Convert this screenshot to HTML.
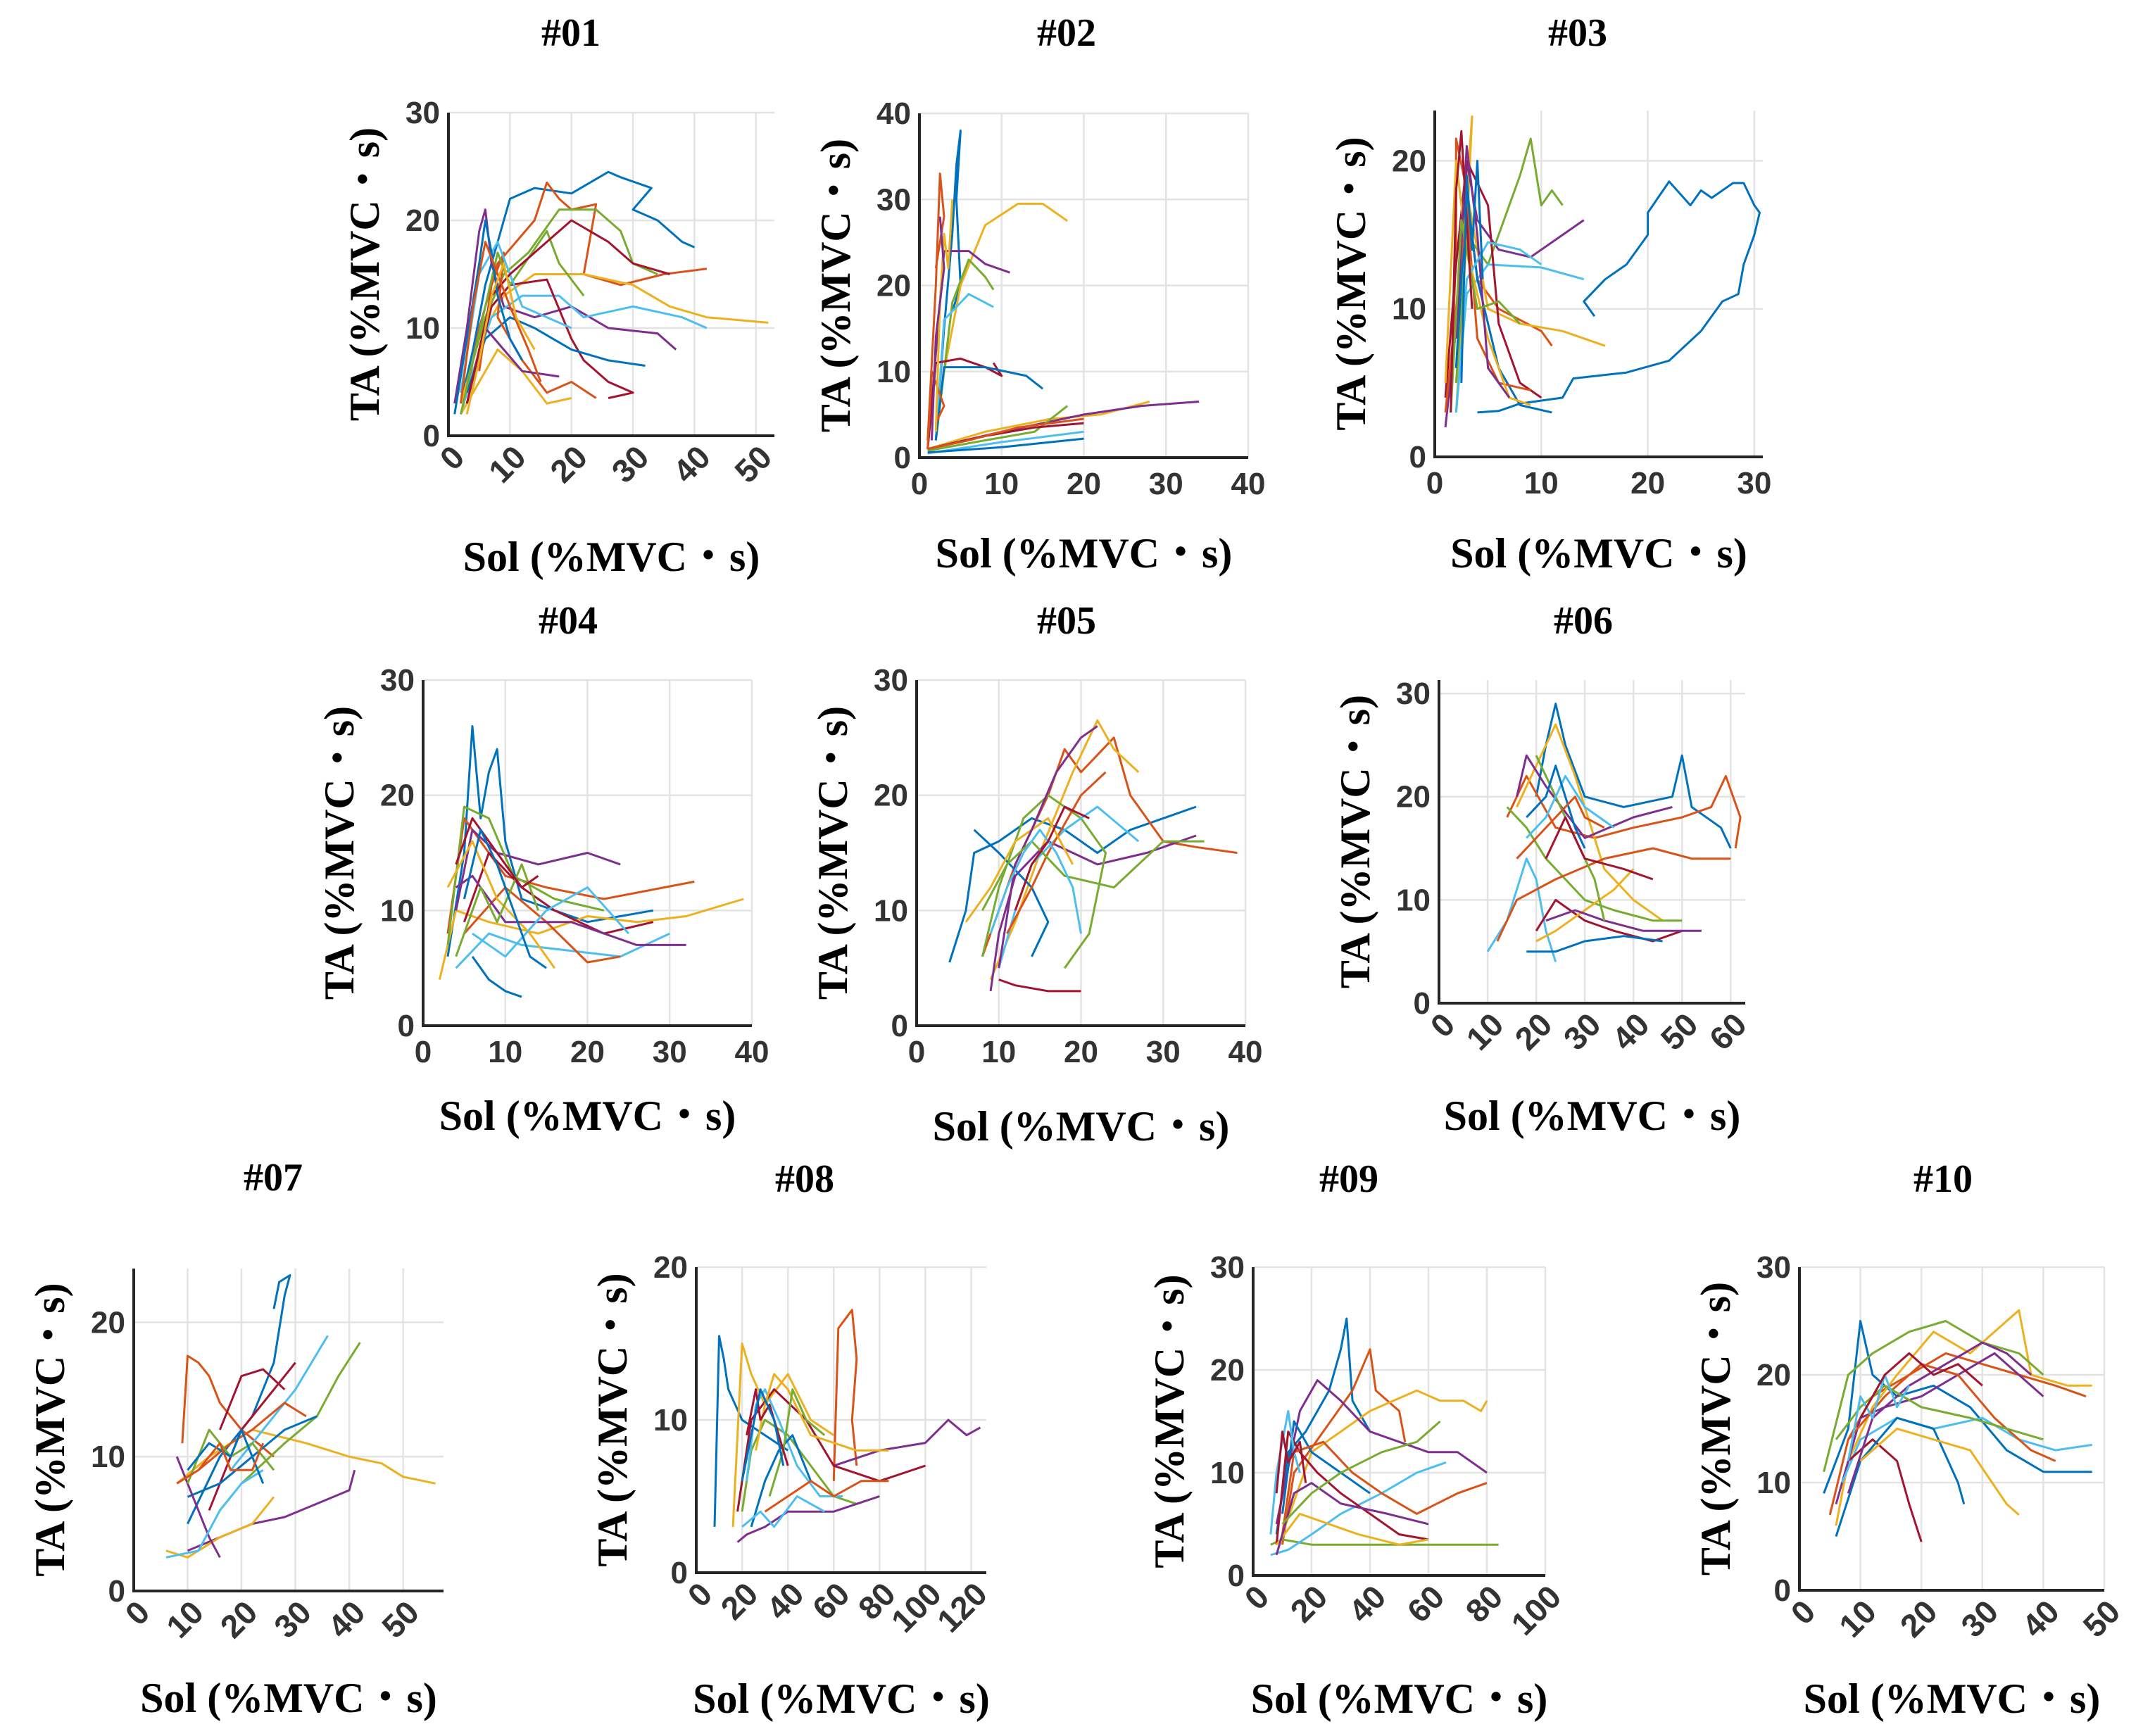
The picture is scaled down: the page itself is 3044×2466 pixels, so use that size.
<!DOCTYPE html>
<html><head><meta charset="utf-8"><style>
html,body{margin:0;padding:0;background:#fff;}
svg{display:block;}
</style></head><body>
<svg id="fig" width="3044" height="2466" viewBox="0 0 3044 2466" xmlns="http://www.w3.org/2000/svg"></svg>
<script>
// ---------- DATA (hand-estimated traces: flat [x,y,x,y,...]) ----------
const titles = ["#01","#02","#03","#04","#05","#06","#07","#08","#09","#10"];
const xlims = [53,40,30.8,40,40,63,57.5,126.6,100,50];
const ylims = [30,40,23.4,30,30,31.3,24,20,30,30];
const xtickVals = [[0,10,20,30,40,50],[0,10,20,30,40],[0,10,20,30],[0,10,20,30,40],[0,10,20,30,40],[0,10,20,30,40,50,60],[0,10,20,30,40,50],[0,20,40,60,80,100,120],[0,20,40,60,80,100],[0,10,20,30,40,50]];
const ytickVals = [[0,10,20,30],[0,10,20,30,40],[0,10,20],[0,10,20,30],[0,10,20,30],[0,10,20,30],[0,10,20],[0,10,20],[0,10,20,30],[0,10,20,30]];
const tr01 = [
 [2,3,4,8,6,14,8,18,10,22,14,23,20,22.5,26,24.5,28,24,33,23,30,21,34,20,38,18,40,17.5],
 [3,4,5,10,8,16,14,20,16,23.5,18,22,20,21,24,21.5,22,15,28,14,35,15,42,15.5],
 [2,3,5,9,9,13,14,15,22,15,30,14,36,12,42,11,52,10.5],
 [1,3,3,10,5,19,6,21,7,16,9,12,14,11,20,12,26,10,34,9.5,37,8],
 [3,5,6,11,9,15,13,17,18,21,24,21,28,19,30,16,34,15],
 [2,2,4,6,7,11,12,13,18,13,22,11,30,12,38,11,42,10],
 [4,5,7,12,10,14,16,14.5,20,9,22,7,26,5,30,4,26,3.5],
 [3,4,6,9,10,11,14,10,20,8,26,7,32,6.5],
 [5,6,7,14,9,17,8,11,12,7,16,4,20,5,24,3.5],
 [2,2,5,5,8,8,12,6,16,3,20,3.5],
 [3,3,6,10,9,8,12,6,18,5.5],
 [2,2,4,7,8,17,10,14,16,19,18,16,22,13],
 [2,4,5,15,8,18,12,12,16,11,20,10],
 [3,3,7,13,10,15,20,20,26,18,30,16,36,15],
 [1,2,3,9,5,16,6,20,7,17,8,13,10,9,12,7],
 [2,3,4,12,6,18,8,15,10,12,13,8,15,5],
 [3,2,5,7,7,13,9,16,11,11,14,8]];
const tr02 = [
 [2,2,3,15,4,26,4.5,34,5,38,4.5,30,5,20,4,17],
 [1,2,2,20,2.5,33,3,28,2,22],
 [3,10,5,20,8,27,12,29.5,15,29.5,18,27.5],
 [1,1,2,12,3,24,6,24,8,22.5,11,21.5],
 [2,2,4,18,6,23,8,21,9,19.5],
 [2,2,3,16,6,19,9,17.5],
 [1,1,2,11,5,11.5,8,10.5,10,9.5,9,11],
 [2,2,3,10.5,8,10.5,13,9.5,15,8],
 [1,1,1.5,10,3,6,2,4],
 [1,1,8,3,16,4.5,22,5,28,6.5],
 [1,1,10,3,20,5,27,6,34,6.5],
 [1,0.8,8,2,14,3,18,6],
 [1,0.5,10,1.8,20,3],
 [1,1,8,2.5,14,3.5,20,4],
 [1,0.6,10,1.2,20,2.2],
 [1,1,6,2,12,3.5,20,4.5],
 [2,3,2.5,18,3,26,3.5,22,4,30],
 [1.5,2,2,14,3,22,2.5,28]];
const tr03 = [
 [4,3,6,3.1,8,3.6,12,4,13,5.3,18,5.7,22,6.5,25,8.5,27,10.5,28.5,11,29,13,30,15,30.5,16.5,30,17,29,18.5,28,18.5,26,17.5,25,18,24,17,22,18.6,20,16.5,20,15,18,13,16,12,14,10.5,15,9.5],
 [1.5,4,2,14,2,21.5,3,18,4,12,6,10,10,8.5,11,7.5],
 [2,3,3,15,3.5,23,3,18,5,10,8,9,12,8.5,16,7.5],
 [1,2,2.5,12,3,20,4,16,6,14,9,13.5,12,15,14,16],
 [2,5,3,15,5,13,8,19,9,21.5,10,17,11,18,12,17],
 [2,3,3,11,5,13,10,12.8,14,12],
 [1,4,2,13,3,20,5,17,6,9,8,5,10,4],
 [2,6,3,18,4,12,6,6,8,3.5,11,3],
 [1,3,2,10,3,17,4,8,6,5,9,4.5],
 [1,5,2,20,3,14,5,8,7,4,9,3.5],
 [2,8,3,21,4,15,5,6,7,4],
 [1.5,3,2.5,16,4,10,6,10.5,8,9],
 [2,3,3,12,5,14.5,8,14,10,13],
 [1.5,3,2,18,2.5,22,3,16,3.5,10],
 [2.5,5,3,19,3.5,14,4,20,4.5,12]];
const tr04 = [
 [3,6,5,15,6,26,7,18,8,22,9,24,10,16,12,11,20,9,28,10],
 [3,8,5,18,7,16,10,13,15,12,22,11,33,12.5],
 [2,4,4,10,8,9,14,8,20,9.5,26,9,32,9.5,39,11],
 [4,10,6,17,9,15,14,14,20,15,24,14],
 [3,7,5,19,8,18,11,13,16,11,22,10],
 [4,5,8,8,12,7,18,6.5,24,6,30,8],
 [5,9,8,15,12,12,16,10,22,8,28,9],
 [6,6,8,4,10,3,12,2.5],
 [5,8,10,12,15,9,20,5.5,24,6],
 [3,12,6,16,9,11,13,8,16,5],
 [4,12,6,13,10,9,18,9,26,7,32,7],
 [4,6,7,12,9,9,12,14,14,10],
 [6,8,10,6,15,10,20,12,25,8],
 [4,14,6,18,8,16,10,14,12,12,14,13],
 [5,11,7,17,9,14,11,10,13,6,15,5]];
const tr05 = [
 [4,5.5,6,10,7,15,10,16,14,18,18,17,22,15,26,17,30,18,34,19],
 [8,6,12,14,16,20,18,24,20,22,24,25,26,20,30,16,34,15.5,39,15],
 [9,4,12,9,15,15,19,22,22,26.5,24,24,27,22],
 [9,3,10,8,12,13,16,16,22,14,28,15,34,16.5],
 [8,6,10,12,13,18,16,20,20,18,23,15,21,8,18,5],
 [10,5,12,10,14,14,18,17,22,19,27,16],
 [10,4,12,3.5,16,3,20,3],
 [7,17,10,15,14,12,16,9,14,6],
 [11,8,14,12,16,15,20,20,23,22],
 [6,9,9,12,12,16,16,18,19,14],
 [10,5,12,14,14,17,17,22,20,25,22,26],
 [8,10,11,14,14,16,18,13,24,12,30,16,35,16],
 [9,8,11,12,13,15,15,17,17,15,19,12,20,8],
 [12,10,14,14,16,16,18,19,21,18]];
const tr06 = [
 [20,20,22,25,24,29,26,25,30,20,38,19,48,20,50,24,52,19,58,17,60,15],
 [14,18,18,22,24,17,32,16,40,17,50,18,56,19,59,22,62,18,61,15],
 [16,19,20,23,24,27,28,22,34,13,40,10,46,8],
 [16,20,18,24,22,21,30,16,40,18,48,19],
 [14,19,18,17,22,14,26,12,30,10,36,9,44,8,50,8],
 [10,5,14,8,18,14,20,12,22,7,24,4],
 [20,7,24,10,30,8,36,7,44,6,50,7],
 [18,5,24,5,30,6,38,6.5,46,6],
 [12,6,16,10,24,12,34,14,44,15,52,14,60,14],
 [20,6,24,7,30,9,36,11,40,13],
 [22,8,28,9,34,8,42,7,54,7],
 [20,24,24,20,28,16,32,12,34,8],
 [18,16,22,18,26,22,30,19,36,17],
 [22,14,26,18,30,14,38,13,44,12],
 [18,18,22,20,24,23,26,20,28,17,30,15],
 [16,14,20,16,24,18,28,20,30,18,34,17]];
const tr07 = [
 [10,5,16,10,22,13,26,17,28,22,29,23.5,27,23,26,21],
 [9,11,10,17.5,12,17,14,16,16,14,20,12,26,10],
 [8,8,14,10,22,12,32,11,40,10,46,9.5,50,8.5,56,8],
 [10,3,16,4,22,5,28,5.5,34,6.5,40,7.5,41,9],
 [20,8,28,11,34,13,38,16,42,18.5],
 [18,9,24,12,30,15,36,19],
 [14,6,20,12,26,15,30,17],
 [10,7,16,8,22,10,28,12,34,13],
 [12,9,18,11,22,12,28,14,32,13],
 [6,3,10,2.5,16,4,22,5,26,7],
 [8,10,12,6,14,4,16,2.5],
 [10,8,14,12,18,10,22,11,26,9],
 [6,2.5,12,3,16,6,20,8,24,9],
 [16,12,20,16,24,16.5,28,15],
 [10,9,14,11,18,10,20,12,22,10,24,8],
 [8,8,12,9,16,11,18,9,22,9,24,11]];
const tr08 = [
 [8,3,10,15.5,12,14,14,12,20,10,30,9,40,8],
 [60,6,62,16,68,17.2,70,14,68,10,70,7],
 [16,3,20,15,24,13,30,11,40,13,50,10,60,9],
 [60,7,80,8,100,8.5,110,10,118,9,124,9.5],
 [20,4,24,8,30,10,40,9,50,7,60,5,70,4.5,80,5],
 [22,6,26,11,30,12,36,10,44,7,54,5,64,5],
 [18,4,24,10,34,12,48,10,60,7,80,6,100,7],
 [24,3,30,6,36,8,42,9,50,6],
 [30,4,40,5,50,6,60,5,72,6,84,6],
 [26,8,30,11,34,13,40,12,50,9,70,8,84,8],
 [18,2,22,2.5,30,3,40,4,60,4,80,5],
 [32,5,38,8,42,12,48,10,56,9],
 [20,3,28,4,34,3,44,5,56,4],
 [22,9,26,12,28,10,32,11,36,9,40,7],
 [20,6,24,9,28,12,34,10,38,7]];
const tr09 = [
 [8,4,12,12,18,14,26,18,30,22,32,25,34,17,40,14],
 [10,3,14,10,24,14,34,18,40,22,42,18,50,16,52,13],
 [10,4,20,12,40,16,56,18,64,17,72,17,78,16,80,17],
 [8,5,16,16,22,19,30,17,40,14,50,13,60,12,70,12,80,10],
 [6,3,10,3.5,20,3,40,3,60,3,80,3,84,3],
 [6,2,12,2.5,20,4,30,6,44,8,56,10,66,11],
 [8,3,12,14,16,12,22,10,30,8,40,6,50,4,60,3.5],
 [10,6,14,15,20,12,30,10,40,8],
 [10,4,14,12,24,13,34,10,44,8,56,6,70,8,80,9],
 [8,3,16,6,26,5,36,4,50,3,60,3.5],
 [8,2,14,8,20,9,30,7,46,6,60,5],
 [10,5,20,8,30,10,44,12,56,13,64,15],
 [6,4,8,10,10,13,12,16,14,12,16,10],
 [8,8,10,14,12,11,16,13,18,9]];
const tr10 = [
 [4,9,6,12,8,15,10,25,12,20,16,18,22,19,28,17,34,13,40,11,48,11],
 [5,7,8,14,12,18,18,20,24,22,30,21,36,20,42,19,47,18],
 [6,6,8,12,12,17,16,20,22,24,28,22,34,25,36,26,38,20,44,19,48,19],
 [6,8,10,16,14,17,20,18,26,20,32,22,40,18],
 [4,11,8,20,12,22,18,24,24,25,30,23,36,22,40,20],
 [7,10,10,14,16,16,22,15,30,16,36,14,42,13,48,13.5],
 [8,12,12,14,16,12,18,8,20,4.5],
 [6,5,10,12,16,16,22,15,26,10,27,8],
 [8,14,14,18,20,21,26,20,32,16,38,13,42,12],
 [10,12,16,15,22,14,28,13,34,8,36,7],
 [8,9,12,16,18,19,24,21,30,23,34,22,38,20],
 [6,14,10,17,14,19,20,17,28,16,34,15,40,14],
 [8,12,10,18,12,16,14,20,16,17,18,19],
 [10,16,14,20,18,22,22,20,26,21,30,19]];
const traces = [tr01,tr02,tr03,tr04,tr05,tr06,tr07,tr08,tr09,tr10];
const colors = ["#0072BD","#D95319","#EDB120","#7E2F8E","#77AC30","#4DBEEE","#A2142F"];

// ---------- LAYOUT (pixel boxes) ----------
const boxes = [
 {l:637,r:1100,t:160,b:619,tx:811,ty:46,rot:true,xl:791},
 {l:1306,r:1773,t:161,b:650,tx:1515,ty:46,rot:false,xl:786},
 {l:2038,r:2504,t:157,b:649,tx:2241,ty:46,rot:false,xl:786},
 {l:601,r:1068,t:966,b:1457,tx:807,ty:881,rot:false,xl:1585},
 {l:1302,r:1769,t:966,b:1457,tx:1515,ty:881,rot:false,xl:1600},
 {l:2044,r:2479,t:966,b:1425,tx:2249,ty:881,rot:true,xl:1585},
 {l:190,r:630,t:1802,b:2260,tx:388,ty:1672,rot:true,xl:2412},
 {l:989,r:1401,t:1800,b:2234,tx:1143,ty:1674,rot:true,xl:2413},
 {l:1780,r:2195,t:1800,b:2238,tx:1916,ty:1674,rot:true,xl:2413},
 {l:2556,r:2989,t:1800,b:2259,tx:2760,ty:1674,rot:true,xl:2413}];

const NS="http://www.w3.org/2000/svg";
const fig=document.getElementById('fig');
function mk(tag,attrs,parent){const e=document.createElementNS(NS,tag);for(const k in attrs)e.setAttribute(k,attrs[k]);(parent||fig).appendChild(e);return e;}

titles.forEach((ttl,i)=>{
  const B=boxes[i];
  const g=mk('g',{});
  
  
  const sx=v=>B.l+(v/xlims[i])*(B.r-B.l);
  const sy=v=>B.b-(v/ylims[i])*(B.b-B.t);
  const t=mk('text',{x:B.tx,y:B.ty+19,'text-anchor':'middle','font-family':'Liberation Serif, serif','font-weight':'bold','font-size':56,fill:'#000'},g);
  t.textContent=ttl;
  
  
  xtickVals[i].forEach(v=>{if(v>0){const l=mk('line',{x1:sx(v),x2:sx(v),y1:B.t,y2:B.b,stroke:'#e3e3e3','stroke-width':2.5},g);
    }});
  ytickVals[i].forEach(v=>{if(v>0){const l=mk('line',{x1:B.l,x2:B.r,y1:sy(v),y2:sy(v),stroke:'#e3e3e3','stroke-width':2.5},g);
    }});
  traces[i].forEach((tr,k)=>{
    let pts=[];for(let j=0;j<tr.length;j+=2)pts.push(sx(tr[j]).toFixed(1)+','+sy(tr[j+1]).toFixed(1));
    const p=mk('polyline',{points:pts.join(' '),fill:'none',stroke:colors[k%colors.length],'stroke-width':3,'stroke-linejoin':'round'},g);
    
    
  });
  const ax=mk('path',{d:`M${B.l},${B.t} V${B.b} H${B.r}`,fill:'none',stroke:'#262626','stroke-width':4},g);
  
  
  ytickVals[i].forEach(v=>{
    const e=mk('text',{x:B.l-12,y:sy(v)+15,'text-anchor':'end','font-family':'Liberation Sans, sans-serif','font-weight':'bold','font-size':44,fill:'#333'},g);
    e.textContent=v;
    
    
  });
  xtickVals[i].forEach(v=>{
    let e;
    if(B.rot){
      e=mk('text',{transform:`translate(${sx(v)+14},${B.b+22}) rotate(-45)`,'text-anchor':'end','font-family':'Liberation Sans, sans-serif','font-weight':'bold','font-size':46,fill:'#333',dy:'0.35em'},g);
    } else {
      e=mk('text',{x:sx(v),y:B.b+52,'text-anchor':'middle','font-family':'Liberation Sans, sans-serif','font-weight':'bold','font-size':44,fill:'#333'},g);
    }
    e.textContent=v;
    
    
  });
  const xl=mk('text',{x:(B.l+B.r)/2,y:B.xl+20,'text-anchor':'middle','font-family':'Liberation Serif, Noto Serif CJK SC, serif','font-weight':'bold','font-size':60,fill:'#000'},g);
  xl.textContent='Sol (%MVC・s)';
  
  
  const yx=B.l-120, yy=(B.t+B.b)/2;
  const yl=mk('text',{transform:`translate(${yx},${yy}) rotate(-90)`,'text-anchor':'middle','font-family':'Liberation Serif, Noto Serif CJK SC, serif','font-weight':'bold','font-size':60,fill:'#000',dy:'0.35em'},g);
  yl.textContent='TA (%MVC・s)';
  
  
});
</script>
</body></html>
